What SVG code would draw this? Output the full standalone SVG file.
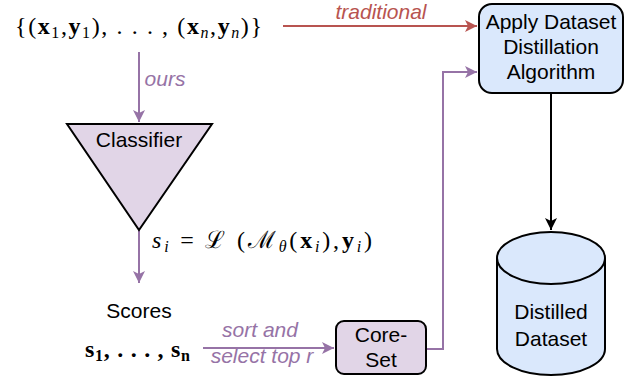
<svg xmlns="http://www.w3.org/2000/svg" width="633" height="381" viewBox="0 0 633 381">
<style>
.t{font-family:"Liberation Sans",Arial,sans-serif;font-size:21px;fill:#000;text-anchor:middle}
.it{font-family:"Liberation Sans",Arial,sans-serif;font-size:21px;font-style:italic;text-anchor:middle}
.m{font-family:"Liberation Serif","DejaVu Serif",serif;font-size:24px;fill:#000}
.b{font-weight:bold}
.i{font-style:italic}
.p{fill:none;stroke:#9673a6;stroke-width:2}
</style>
<defs>
<marker id="ap" markerUnits="userSpaceOnUse" markerWidth="14" markerHeight="14" refX="12" refY="7" orient="auto"><path d="M0,1 L12,7 L0,13 L3,7 z" fill="#9673a6"/></marker>
<marker id="ar" markerUnits="userSpaceOnUse" markerWidth="14" markerHeight="14" refX="12" refY="7" orient="auto"><path d="M0,1 L12,7 L0,13 L3,7 z" fill="#b85450"/></marker>
<marker id="ak" markerUnits="userSpaceOnUse" markerWidth="14" markerHeight="14" refX="12" refY="7" orient="auto"><path d="M0,1 L12,7 L0,13 L3,7 z" fill="#000"/></marker>
</defs>
<g id="connectors">
<path d="M283,26 H477" fill="none" stroke="#b85450" stroke-width="2" marker-end="url(#ar)"/>
<path class="p" d="M139,52 V122" marker-end="url(#ap)"/>
<path class="p" d="M139,230 V283" marker-end="url(#ap)"/>
<path class="p" d="M203,348 H334" marker-end="url(#ap)"/>
<path class="p" d="M426,349 H443 V72 H477" marker-end="url(#ap)"/>
<path d="M551,93 V230" fill="none" stroke="#000" stroke-width="2" marker-end="url(#ak)"/>
<text class="it" x="381" y="19" fill="#b85450">traditional</text>
<text class="it" x="165" y="86" fill="#9673a6">ours</text>
<text class="it" x="260" y="337" fill="#9673a6">sort and</text>
<text class="it" x="262" y="363" fill="#9673a6">select top r</text>
</g>
<g id="dataset-set">
<text class="m" x="15" y="34" textLength="247" lengthAdjust="spacing">{(<tspan class="b">x</tspan><tspan font-size="16" dy="4">1</tspan><tspan dy="-4">,</tspan><tspan class="b">y</tspan><tspan font-size="16" dy="4">1</tspan><tspan dy="-4">), . . . , (</tspan><tspan class="b">x</tspan><tspan class="i" font-size="16" dy="4">n</tspan><tspan dy="-4">,</tspan><tspan class="b">y</tspan><tspan class="i" font-size="16" dy="4">n</tspan><tspan dy="-4">)}</tspan></text>
</g>
<g id="classifier">
<path d="M67,124 H212 L139,230 Z" fill="#e1d5e7" stroke="#000" stroke-width="2" stroke-linejoin="miter"/>
<text class="t" x="139" y="147">Classifier</text>
</g>
<g id="score-formula">
<text class="m" x="152" y="248" textLength="220" lengthAdjust="spacing"><tspan class="i">s</tspan><tspan class="i" font-size="16" dy="4">i</tspan><tspan dy="-4"> = ℒ (ℳ</tspan><tspan class="i" font-size="16" dy="4">θ</tspan><tspan dy="-4">(</tspan><tspan class="b">x</tspan><tspan class="i" font-size="16" dy="4">i</tspan><tspan dy="-4">),</tspan><tspan class="b">y</tspan><tspan class="i" font-size="16" dy="4">i</tspan><tspan dy="-4">)</tspan></text>
</g>
<g id="scores">
<text class="t" x="139" y="318">Scores</text>
<text class="m b" x="85" y="357" textLength="105" lengthAdjust="spacing">s<tspan font-size="16" dy="4">1</tspan><tspan dy="-4">, . . . , s</tspan><tspan font-size="16" dy="4">n</tspan></text>
</g>
<g id="core-set">
<rect x="336" y="321" width="90" height="53" rx="8" fill="#e1d5e7" stroke="#000" stroke-width="2"/>
<text class="t" x="381" y="342">Core-</text>
<text class="t" x="381" y="367">Set</text>
</g>
<g id="apply-algorithm">
<rect x="479" y="4" width="144" height="89" rx="13" fill="#dae8fc" stroke="#000" stroke-width="2"/>
<text class="t" x="551" y="29">Apply Dataset</text>
<text class="t" x="551" y="54">Distillation</text>
<text class="t" x="551" y="79">Algorithm</text>
</g>
<g id="distilled-dataset">
<path d="M497,258 A54,26 0 0 1 605,258 V349 A54,26 0 0 1 497,349 Z" fill="#dae8fc" stroke="#000" stroke-width="2"/>
<path d="M497,258 A54,26 0 0 0 605,258" fill="none" stroke="#000" stroke-width="2"/>
<text class="t" x="551" y="319">Distilled</text>
<text class="t" x="551" y="346">Dataset</text>
</g>
</svg>
